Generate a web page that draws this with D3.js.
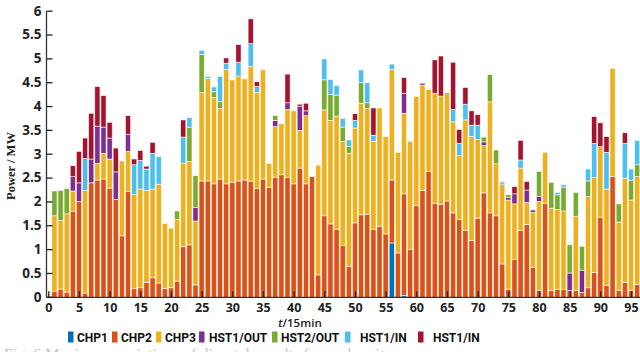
<!DOCTYPE html>
<html>
<head>
<meta charset="utf-8">
<script src="https://cdn.jsdelivr.net/npm/d3@7/dist/d3.min.js"></script>
<style>
  html, body { margin: 0; padding: 0; background: #fff; }
  svg { display: block; }
</style>
</head>
<body>
<svg id="chart" width="640" height="352"></svg>
<script>
// Dispatch of heat sources per 15-minute interval (MW)
const periods = d3.range(1, 97);

const chp1 = [
  0,0,0,0,0,0,0,0,0,0,
  0,0,0,0,0,0,0,0,0,0,
  0,0,0,0,0,0,0,0,0,0,
  0,0,0,0,0,0,0,0,0,0,
  0,0,0,0,0,0,0,0,0,0,
  0,0,0,0,0,1.14,0,0.04,0,0,
  0,0,0,0,0,0,0,0,0,0,
  0,0,0,0,0,0,0,0,0,0,
  0,0,0,0,0,0,0,0,0,0,
  0,0,0,0,0,0
];
const chp2 = [
  0.13,0.17,0.11,1.80,2.01,0.09,2.40,2.46,2.48,2.29,
  2.05,1.29,2.22,0.18,0.20,0.31,0.41,0.30,0.18,0.20,
  0.34,1.06,1.10,0.26,2.44,2.44,2.38,2.48,2.38,2.41,
  2.44,2.46,2.43,2.28,2.48,2.30,2.51,2.57,2.51,2.38,
  2.71,2.38,2.53,0.47,1.71,1.54,1.42,1.09,0.65,1.56,
  1.73,1.74,1.42,1.49,1.33,1.32,0.93,2.13,1.00,1.92,
  2.24,2.64,1.97,1.95,2.02,1.77,1.63,1.40,1.19,1.66,
  2.19,1.77,1.71,0.70,0.17,0.79,1.40,1.53,0.63,0.15,
  1.97,0.14,0.17,0.16,0.14,0.14,0.10,0.20,0.52,1.67,
  0.25,2.53,0.15,0.31,0.15,0.27
];
const chp3 = [
  1.58,1.44,1.64,0.43,0,2.15,0,0.35,0.54,0.61,
  0,1.57,0.84,1.98,2.07,1.93,1.86,2.07,1.37,1.25,
  1.29,1.75,1.75,1.34,1.85,2.15,1.81,1.48,2.40,2.15,
  2.20,2.12,2.41,2.02,2.29,0.51,1.07,1.07,1.43,1.53,
  0.79,1.43,0,2.30,2.22,2.17,2.38,2.18,2.37,1.99,
  2.34,2.22,1.85,2.48,2.04,2.32,2.11,1.69,2.27,2.29,
  2.21,1.72,2.31,2.27,2.27,1.91,1.34,2.32,2.18,1.65,
  0.99,2.33,1.09,1.66,1.87,1.17,1.31,0.46,1.15,1.86,
  1.07,1.73,1.67,1.65,0,1.56,0,1.91,1.99,1.49,
  2.02,2.27,1.43,2.19,1.89,2.26
];
const hst1Out = [
  0,0,0,0.30,0.39,0,0.50,0.78,0.55,0.44,
  0.58,0,0.36,0,0,0,0,0,0,0,
  0,0,0,0.28,0,0,0,0,0,0,
  0,0,0,0,0,0,0.13,0,0.14,0,
  0.51,0.10,0,0,0,0,0,0,0,0,
  0,0,0,0,0,0,0,0.42,0,0,
  0.04,0,0,0,0,0,0,0,0,0,
  0.08,0,0,0,0.05,0.21,0,0.26,0.05,0.11,
  0,0,0,0,0.37,0,0.47,0,0,0,
  0,0,0,0,0,0
];
const hst2Out = [
  0.52,0.63,0.53,0,0,0,0,0,0,0,
  0,0,0,0,0,0,0,0,0,0,
  0.18,0,0.72,0.67,0.80,0,0.12,0.14,0,0,
  0,0,0,0,0,0,0.10,0,0,0,
  0,0,0,0,0.63,0.54,0.44,0.30,0.14,0,
  0.43,0.12,0,0,0,0,0,0,0,0,
  0,0,0,0,0,0,0,0,0,0,
  0.10,0.57,0.29,0.04,0.06,0,0,0,0,0.52,
  0,0.54,0.31,0.50,0.59,0.50,0.50,0.33,0,0,
  0,0,0.38,0,0.41,0.25
];
const hst1InA = [
  0,0,0,0,0,0.67,0,0,0,0,
  0,0,0,0.62,0.60,0.45,0.75,0.58,0,0,
  0,0.55,0.20,0,0.09,0.04,0.10,0.53,0.13,0,
  0.29,0,0.48,0.12,0,0,0,0,0,0,
  0,0,0,0,0.44,0.32,0.20,0.18,0.14,0.16,
  0.27,0.42,0.13,0,0,0.11,0,0,0,0,
  0,0,0,0,0,0.26,0.26,0.33,0.24,0.30,
  0,0,0,0.03,0,0,0.17,0,0,0,
  0,0,0.05,0.05,0,0,0,0.25,0.72,0,
  0.77,0,0,0.73,0.24,0.51
];
const hst1InB = [
  0,0,0,0.23,0.66,0.43,0.96,0.83,0.66,0.33,
  0.50,0,0.39,0.12,0.21,0.06,0.23,0,0,0,
  0,0.36,0,0,0,0,0,0,0.11,0,
  0.37,0,0.52,0.10,0,0,0,0,0.60,0,
  0.04,0.16,0,0,0,0,0,0,0,0.14,
  0,0,0.57,0,0,0,0,0.33,0,0,
  0,0,0.70,0.84,0,0.99,0.29,0.35,0.30,0.22,
  0,0,0,0,0,0.15,0.41,0.18,0,0,
  0,0,0,0,0,0,0,0,0.56,0.50,
  0.33,0,0,0.22,0,0
];

const seriesKeys   = ["chp1", "chp2", "chp3", "hst1Out", "hst2Out", "hst1InA", "hst1InB"];
const seriesNames  = ["CHP1", "CHP2", "CHP3", "HST1/OUT", "HST2/OUT", "HST1/IN", "HST1/IN"];
const seriesColors = ["#0072BD", "#D95319", "#EDB120", "#7E2F8E", "#77AC30", "#4DBEEE", "#A2142F"];
const seriesValues = [chp1, chp2, chp3, hst1Out, hst2Out, hst1InA, hst1InB];

const xTicks = d3.range(0, 100, 5);
const yTicks = d3.range(0, 6.01, 0.5);

const rows = periods.map((t, i) => {
  const r = { t };
  seriesKeys.forEach((k, j) => { r[k] = seriesValues[j][i]; });
  return r;
});

const svg = d3.select("#chart");
const x = d3.scaleLinear().domain([0, 96.5]).range([48.3, 640.2]);
const y = d3.scaleLinear().domain([0, 6]).range([297.3, 11.2]);
const color = d3.scaleOrdinal().domain(seriesKeys).range(seriesColors);
const barW = 5.2;

const stacked = d3.stack().keys(seriesKeys)(rows);

svg.append("g")
  .selectAll("g")
  .data(stacked)
  .join("g")
    .attr("fill", d => color(d.key))
  .selectAll("rect")
  .data(d => d.filter(s => s[1] - s[0] > 0))
  .join("rect")
    .attr("x", d => x(d.data.t) - barW / 2)
    .attr("width", barW)
    .attr("y", d => y(d[1]))
    .attr("height", d => y(d[0]) - y(d[1]))
    .attr("stroke", "#ffffff")
    .attr("stroke-opacity", 0.8)
    .attr("stroke-width", 0.7);

// Axes with inward ticks
const xAxis = d3.axisBottom(x).tickValues(xTicks).tickSize(-6).tickPadding(6).tickFormat(d3.format("d"));
const yAxis = d3.axisLeft(y).tickValues(yTicks).tickSize(-6).tickPadding(5).tickFormat(d => d3.format("")(d));

const gx = svg.append("g").attr("transform", `translate(0,${y(0)})`).call(xAxis);
gx.select(".domain").attr("d", `M46.5,0H640`);
const gy = svg.append("g").attr("transform", "translate(-1.8,0)").call(yAxis);
gy.selectAll(".tick").attr("transform", d => `translate(48.3,${y(d)})`);
gy.select(".domain").attr("d", `M48.3,${y(6)}V${y(0)}`);

[gx, gy].forEach(g => {
  g.select(".domain").attr("stroke", "#333").attr("stroke-width", 1.3);
  g.selectAll(".tick line").attr("stroke", "#222").attr("stroke-width", 1.3);
  g.selectAll(".tick text")
    .attr("fill", "#222")
    .style("font-family", "'Open Sans', 'Noto Sans', sans-serif")
    .style("font-weight", "700");
});
gx.selectAll(".tick text").style("font-size", "12.5px");
gy.selectAll(".tick text").style("font-size", "13.5px");

// Axis titles
svg.append("text")
  .attr("x", 300).attr("y", 327)
  .attr("text-anchor", "middle")
  .style("font-family", "'Open Sans', 'Noto Sans', sans-serif")
  .style("font-weight", "600")
  .style("font-size", "11.5px")
  .attr("fill", "#222")
  .html("<tspan font-style='italic'>t</tspan>/15min");

svg.append("text")
  .attr("transform", "translate(15,166) rotate(-90)")
  .attr("text-anchor", "middle")
  .style("font-family", "'Liberation Serif', 'DejaVu Serif', serif")
  .style("font-weight", "700")
  .style("font-size", "12.5px")
  .attr("fill", "#222")
  .text("Power / MW");

// Legend
const legendX = [68, 112, 156, 199, 272, 345, 418];
const legendTextX = [77, 121, 165, 209, 281, 360, 433];
const legend = svg.append("g");
seriesKeys.forEach((k, i) => {
  legend.append("rect")
    .attr("x", legendX[i]).attr("y", 331.5)
    .attr("width", 5.5).attr("height", 11)
    .attr("fill", color(k));
  legend.append("text")
    .attr("x", legendTextX[i]).attr("y", 342)
    .style("font-family", "Roboto, 'Noto Sans', sans-serif")
    .style("font-weight", "700")
    .style("font-size", "12px")
    .attr("fill", "#111")
    .text(seriesNames[i]);
});

// Figure caption, running off the bottom edge
svg.append("text")
  .attr("x", 4).attr("y", 359.5)
  .style("font-family", "'Liberation Serif', serif")
  .style("font-size", "16px")
  .attr("fill", "#c4c4c4")
  .text("Fig. 6  Maximum variations of dispatch results for each unit");
</script>
</body>
</html>
